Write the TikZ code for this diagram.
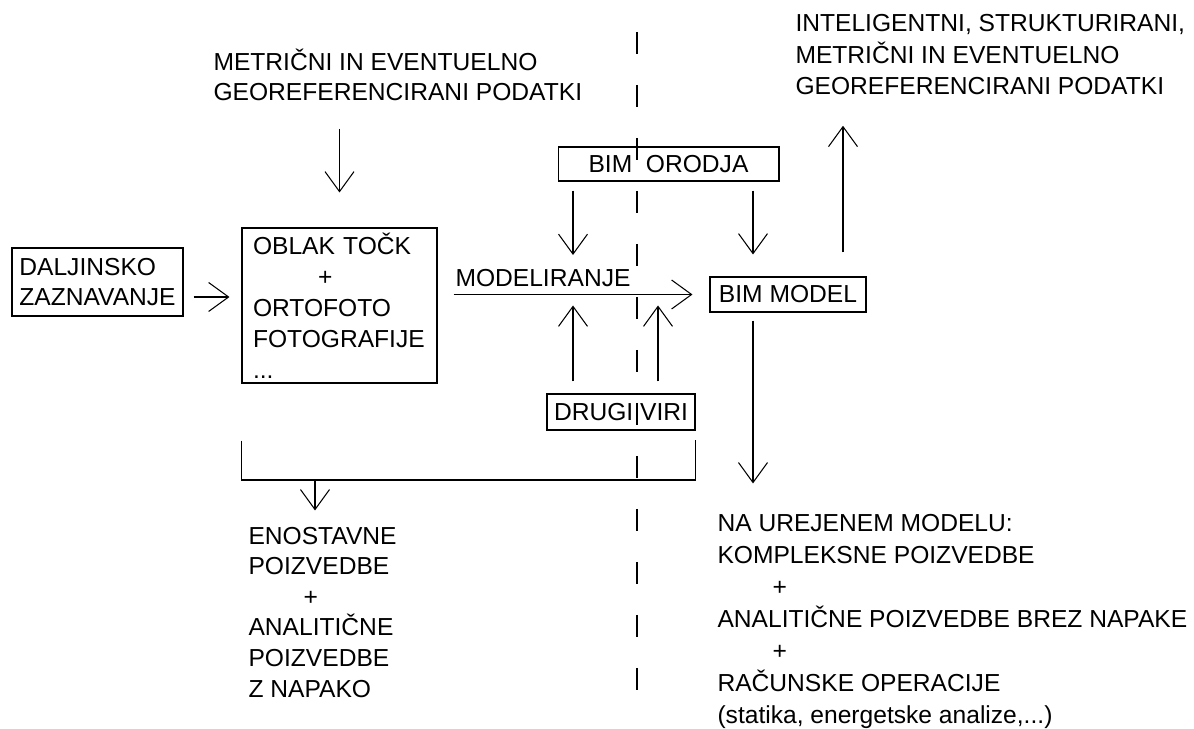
\documentclass[tikz,border=0pt]{standalone}
\usepackage{fontspec}
\setmainfont{Liberation Sans}
\usetikzlibrary{arrows.meta}

\begin{document}
\begin{tikzpicture}[
  x=0.02cm, y=-0.02cm,
  line width=0.6pt,
  every node/.style={font=\fontsize{14}{17.6}\selectfont, inner sep=0pt},
  box/.style={draw, minimum height=0.7cm, align=left},
  txt/.style={anchor=base west, align=left},
  arr/.style={-{Straight Barb[length=0.4cm,width=0.58cm]}}
]
  \useasboundingbox (0,0) rectangle (1194,729);

  \coordinate (l1) at (573,0);
  \coordinate (l2) at (658,0);
  \coordinate (l3) at (753,0);
  \coordinate (l4) at (843,0);
  \coordinate (l5) at (315,0);
  \coordinate (br) at (0,480);

  \node[txt] (src) at (213,101) {METRIČNI IN EVENTUELNO\\GEOREFERENCIRANI PODATKI};
  \node[box, minimum width=3.42cm, minimum height=1.36cm] (dal) at (97.5,282) {DALJINSKO\\ZAZNAVANJE};
  \node[box, minimum width=3.9cm, minimum height=3.1cm, text width=3.46cm, inner xsep=0.22cm] (cloud) at (339.5,305.5) {OBLAK TOČK\\\hspace*{1.3cm}+\\ORTOFOTO\\FOTOGRAFIJE\\...};
  \node[box, minimum width=4.42cm, minimum height=0.68cm] (orodja) at (668.5,164) {BIM\ \ ORODJA};
  \node[box, minimum width=3.12cm] (bim) at (788,294.5) {BIM MODEL};
  \node[box, minimum width=2.96cm, minimum height=0.72cm] (drugi) at (621,412) {DRUGI VIRI};
  \node[txt, font=\fontsize{14}{18.2}\selectfont] (out) at (795,95) {INTELIGENTNI, STRUKTURIRANI,\\METRIČNI IN EVENTUELNO\\GEOREFERENCIRANI PODATKI};
  \node[txt, font=\fontsize{14}{17.4}\selectfont] (simple) at (248,697) {ENOSTAVNE\\POIZVEDBE\\\hspace*{1.1cm}+\\ANALITIČNE\\POIZVEDBE\\Z NAPAKO};
  \node[txt, font=\fontsize{14}{18.2}\selectfont] (res) at (717,723) {NA UREJENEM MODELU:\\KOMPLEKSNE POIZVEDBE\\\hspace*{1.1cm}+\\ANALITIČNE POIZVEDBE BREZ NAPAKE\\\hspace*{1.1cm}+\\RAČUNSKE OPERACIJE\\(statika, energetske analize,...)};
  \node[txt] (mdl) at (455,287) {MODELIRANJE};

  \draw[arr, shorten <=0.54cm, shorten >=0.7cm] (src.south -| cloud.north) -- (cloud.north);
  \draw[arr, shorten <=0.2cm, shorten >=0.24cm] ([yshift=-0.3cm]dal.east) -- ([yshift=-0.3cm]dal.east -| cloud.west);
  \draw[arr, shorten <=0.32cm, shorten >=0.34cm] (bim.west -| cloud.east) -- (bim.west);
  \draw[arr, shorten <=0.18cm, shorten >=0.79cm] (orodja.south -| l1) -- (bim.west -| l1);
  \draw[arr, shorten <=0.18cm, shorten >=0.44cm] (orodja.south -| l3) -- (bim.north -| l3);
  \draw[arr, shorten <=0.24cm, shorten >=0.22cm] (drugi.north -| l1) -- (bim.west -| l1);
  \draw[arr, shorten <=0.24cm, shorten >=0.22cm] (drugi.north -| l2) -- (bim.west -| l2);
  \draw[arr, shorten <=0.48cm, shorten >=0.6cm] (bim.north -| l4) -- (out.south -| l4);
  \draw[arr, shorten <=0.16cm, shorten >=0.6cm] (bim.south -| l3) -- (res.north -| l3);
  \draw (cloud.south west) ++(0,57) |- (br -| drugi.east) -- ++(0,-40);
  \draw[arr, shorten >=0.32cm] (br -| l5) -- (simple.north -| l5);
  \draw[dash pattern=on 0.44cm off 0.62cm] (637,32) -- (637,690);
\end{tikzpicture}
\end{document}
